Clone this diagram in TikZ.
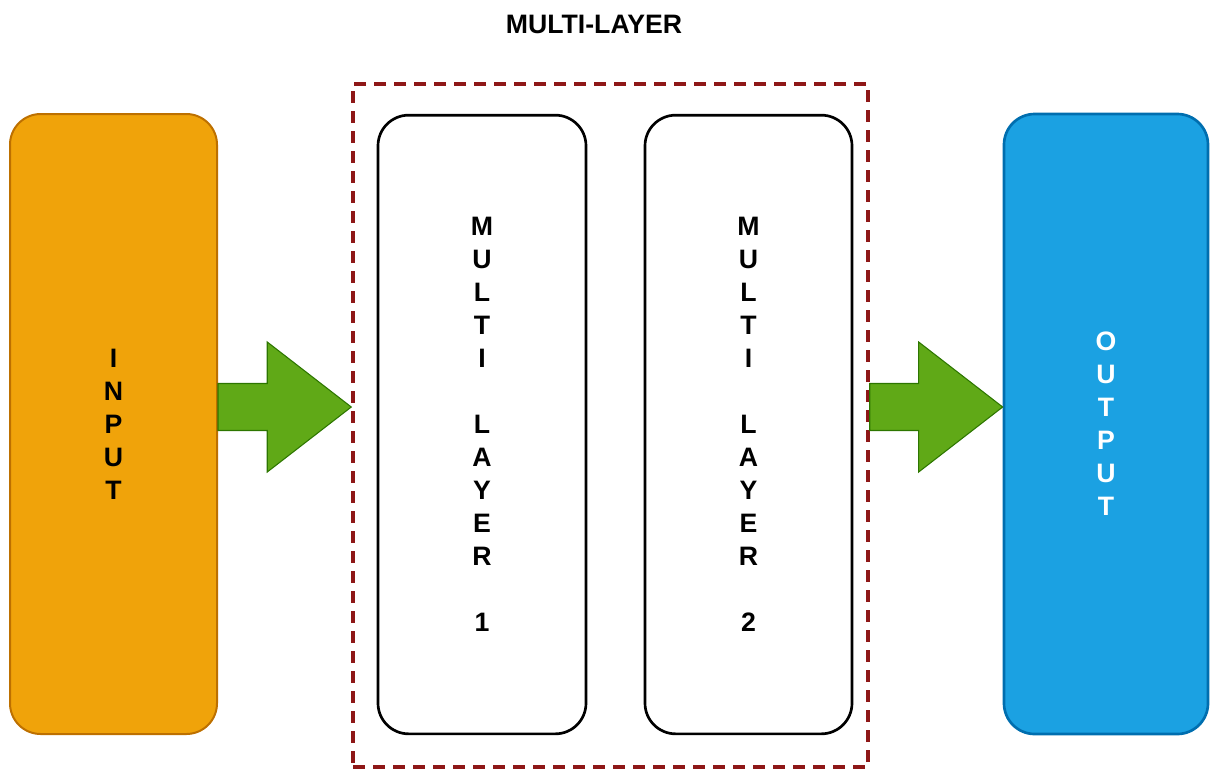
\documentclass[tikz,border=0pt]{standalone}
\usepackage{fontspec}
\setmainfont{Liberation Sans}
\usetikzlibrary{calc}

\definecolor{inputfill}{HTML}{F0A30A}
\definecolor{inputline}{HTML}{BD7000}
\definecolor{outputfill}{HTML}{1BA1E2}
\definecolor{outputline}{HTML}{006EAF}
\definecolor{arrowfill}{HTML}{60A917}
\definecolor{arrowline}{HTML}{2D7600}
\definecolor{frameline}{HTML}{8E1717}

% block arrow from #1 (tail centre) to #2 (tip)
\newcommand{\blockarrow}[2]{%
  \draw[greenarrow]
    ($(#1)+(0,-23.5)$) -- ($(#2)+(-84,-23.5)$) -- ($(#2)+(-84,-65)$) --
    (#2) -- ($(#2)+(-84,65)$) -- ($(#2)+(-84,23.5)$) --
    ($(#1)+(0,23.5)$) -- cycle;}

\begin{document}
\begin{tikzpicture}[x=0.75pt,y=-0.75pt,
  stackbox/.style={rectangle, rounded corners=23pt, align=center,
    inner sep=0pt,
    font=\bfseries\fontsize{20}{24.75}\selectfont},
  inbox/.style={stackbox, fill=inputfill, draw=inputline, line width=1.5pt},
  outbox/.style={stackbox, fill=outputfill, draw=outputline, line width=2pt,
    text=white},
  layerbox/.style={stackbox, draw=black, line width=2pt},
  framebox/.style={rectangle, draw=frameline, line width=2.6pt,
    dash pattern=on 8.8pt off 6.2pt},
  greenarrow/.style={fill=arrowfill, draw=arrowline, line width=0.8pt,
    line join=miter},
  titletext/.style={font=\bfseries\fontsize{20}{24}\selectfont}
]
\useasboundingbox (0,0) rectangle (1211,769);

% title above the framed group
\node[titletext] (title) at (594,24) {MULTI-LAYER};

% dashed frame grouping the two layers
\node[framebox, minimum width=386.25pt, minimum height=512.25pt]
  (frame) at (610.5,425.5) {};

% input and output blocks
\node[inbox, minimum width=155.25pt, minimum height=465pt]
  (input) at (113.5,424) {I\\N\\P\\U\\T};
\node[outbox, minimum width=153pt, minimum height=465pt]
  (output) at (1106,424) {O\\U\\T\\P\\U\\T};

% the two layers
\node[layerbox, minimum width=156pt, minimum height=464pt]
  (layer1) at (482,424.5) {M\\U\\L\\T\\I\\~\\L\\A\\Y\\E\\R\\~\\1};
\node[layerbox, minimum width=155.25pt, minimum height=464pt]
  (layer2) at (748.5,424.5) {M\\U\\L\\T\\I\\~\\L\\A\\Y\\E\\R\\~\\2};

% arrow end points
\coordinate (a1s) at (input.east |- 0,407);
\coordinate (a1e) at (frame.west |- 0,407);
\coordinate (a2s) at (frame.east |- 0,407);
\coordinate (a2e) at (output.west |- 0,407);

\blockarrow{a1s}{a1e}
\blockarrow{a2s}{a2e}
\end{tikzpicture}
\end{document}
